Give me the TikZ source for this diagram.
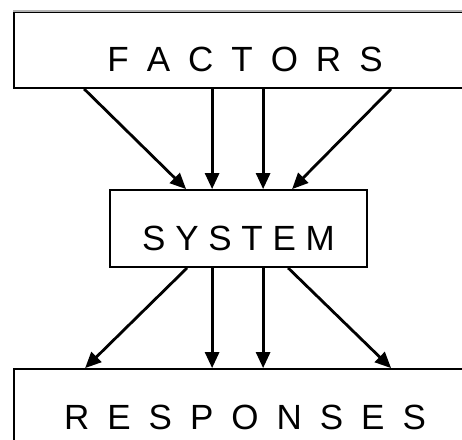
\documentclass[tikz,border=0pt]{standalone}
\usepackage{fontspec}
\setmainfont{Liberation Sans}
\usetikzlibrary{arrows.meta,calc}
\newcommand{\lgap}{\hspace{18pt}}
\begin{document}
\begin{tikzpicture}[x=1pt,y=-1pt,
  boxstyle/.style={draw=black,line width=1.8pt,rectangle,inner sep=0pt},
  lbl/.style={font=\fontsize{35}{40}\selectfont,inner sep=0pt,text height=25pt,text depth=0pt},
  arr/.style={line width=2.8pt,-{Triangle[length=16pt,width=14pt]}}]
\useasboundingbox (0,0) rectangle (462,439);
% boxes
\node[boxstyle,minimum width=462pt,minimum height=76pt] (fbox) at (245,50) {};
\draw[gray!60,line width=1.8pt] (fbox.north west) -- (fbox.north east);
\node[lbl] (ftxt) at (245,59) {F\lgap A\lgap C\lgap T\lgap O\lgap R\lgap S};
\node[boxstyle,minimum width=257pt,minimum height=77pt] (sbox) at (238.5,228.5) {};
\node[lbl] (stxt) at (238.5,237.5) {S Y S T E M};
\node[boxstyle,minimum width=462pt,minimum height=78pt] (rbox) at (245,408) {};
\node[lbl] (rtxt) at (245,417) {R\lgap E\lgap S\lgap P\lgap O\lgap N\lgap S\lgap E\lgap S};
% arrows factors -> system
\draw[arr] ([xshift=71pt]fbox.south west) -- ([xshift=77pt]sbox.north west);
\draw[arr] ([xshift=199pt]fbox.south west) -- ([xshift=103pt]sbox.north west);
\draw[arr] ([xshift=250pt]fbox.south west) -- ([xshift=154pt]sbox.north west);
\draw[arr] ([xshift=378pt]fbox.south west) -- ([xshift=183pt]sbox.north west);
% arrows system -> responses
\draw[arr] ([xshift=78pt]sbox.south west) -- ([xshift=72pt]rbox.north west);
\draw[arr] ([xshift=103pt]sbox.south west) -- ([xshift=199pt]rbox.north west);
\draw[arr] ([xshift=154pt]sbox.south west) -- ([xshift=250pt]rbox.north west);
\draw[arr] ([xshift=179pt]sbox.south west) -- ([xshift=378pt]rbox.north west);
\end{tikzpicture}
\end{document}
